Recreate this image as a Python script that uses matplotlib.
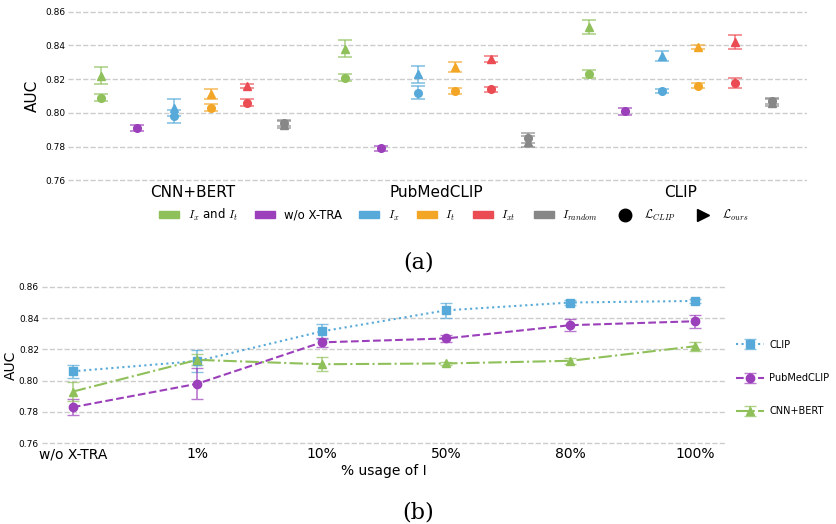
import numpy as np
import matplotlib.pyplot as plt
from matplotlib.patches import Patch
from matplotlib.lines import Line2D

plt.rcParams['mathtext.fontset'] = 'cm'

# === DATA (a) ===
groups = ["CNN+BERT", "PubMedCLIP", "CLIP"]
variants = ["both", "wo", "ix", "it", "ixt", "random"]
variant_labels = [r"$I_x$ and $I_t$", "w/o X-TRA", r"$I_x$", r"$I_t$", r"$I_{xt}$", r"$I_{random}$"]
colors = ["#8fc05a", "#9b3fbb", "#56a9d8", "#f3a626", "#eb4b52", "#878787"]

# L_CLIP (circles), per group, per variant
clip_mean = [[0.809, 0.791, 0.798, 0.803, 0.806, 0.794],
             [0.821, 0.779, 0.812, 0.813, 0.814, 0.785],
             [0.823, 0.801, 0.813, 0.816, 0.818, 0.807]]
clip_err = [[0.002, 0.002, 0.004, 0.002, 0.002, 0.002],
            [0.002, 0.0015, 0.004, 0.0015, 0.0015, 0.003],
            [0.0025, 0.002, 0.001, 0.0015, 0.003, 0.002]]
# L_ours (triangles); w/o X-TRA has none
ours_mean = [[0.822, None, 0.803, 0.811, 0.816, 0.793],
             [0.838, None, 0.823, 0.827, 0.832, 0.783],
             [0.851, None, 0.834, 0.839, 0.842, 0.806]]
ours_err = [[0.005, None, 0.005, 0.003, 0.001, 0.002],
            [0.005, None, 0.005, 0.003, 0.0015, 0.003],
            [0.004, None, 0.003, 0.001, 0.004, 0.002]]

# === DATA (b) ===
usage = ["w/o X-TRA", "1%", "10%", "50%", "80%", "100%"]
b_names = ["CLIP", "PubMedCLIP", "CNN+BERT"]
b_clip = [0.806, 0.8125, 0.8315, 0.845, 0.850, 0.851]
b_clip_err = [0.004, 0.007, 0.005, 0.005, 0.0015, 0.0015]
b_pub = [0.783, 0.798, 0.8245, 0.827, 0.8355, 0.838]
b_pub_err = [0.005, 0.010, 0.003, 0.002, 0.004, 0.004]
b_cnn = [0.793, 0.8133, 0.8105, 0.811, 0.8127, 0.822]
b_cnn_err = [0.006, 0.0035, 0.0045, 0.001, 0.002, 0.003]


def soften(eb, a=0.7):
    # error bars are a bit paler than the markers in the original
    _, caps, bars = eb
    for c in caps:
        c.set_alpha(a)
    for b in bars:
        b.set_alpha(a)


fig = plt.figure(figsize=(8.37, 5.24), dpi=100)

# === PANEL (a) ===
ax1 = fig.add_axes([0.0812, 0.6527, 0.883, 0.328])
offsets = (np.arange(6) - 2.5) * 0.15
for g in range(len(groups)):
    for v in range(len(variants)):
        x = g + offsets[v]
        eb = ax1.errorbar(x, clip_mean[g][v], yerr=clip_err[g][v], fmt='o', color=colors[v],
                          ms=5.5, capsize=5, elinewidth=1.2, capthick=1.2)
        soften(eb)
        if ours_mean[g][v] is not None:
            eb = ax1.errorbar(x, ours_mean[g][v], yerr=ours_err[g][v], fmt='^', color=colors[v],
                              ms=5.5, capsize=5, elinewidth=1.2, capthick=1.2)
            soften(eb)

ax1.set_xlim(-0.51, 2.52)
ax1.set_ylim(0.759, 0.861)
ax1.set_yticks([0.76, 0.78, 0.80, 0.82, 0.84, 0.86])
ax1.set_yticklabels(["0.76", "0.78", "0.80", "0.82", "0.84", "0.86"], fontsize=6.5)
ax1.set_xticks(range(len(groups)))
ax1.set_xticklabels(groups, fontsize=11)
ax1.tick_params(length=0, pad=2)
ax1.set_ylabel("AUC", fontsize=11, labelpad=4)
ax1.grid(axis='y', linestyle='--', color='#cccccc', linewidth=1)
ax1.set_axisbelow(True)
for s in ax1.spines.values():
    s.set_visible(False)

handles = [Patch(color=c, label=l) for c, l in zip(colors, variant_labels)]
handles.append(Line2D([], [], marker='o', color='black', ls='none', ms=9, label=r"$\mathcal{L}_{CLIP}$"))
handles.append(Line2D([], [], marker='>', color='black', ls='none', ms=9, label=r"$\mathcal{L}_{ours}$"))
fig.legend(handles=handles, loc='center', bbox_to_anchor=(0.542, 0.59), ncol=8, frameon=False,
           fontsize=8.5, handlelength=1.7, handleheight=0.5, columnspacing=1.5, handletextpad=0.7)

fig.text(0.5, 1 - 262 / 524, "(a)", ha='center', va='center', fontsize=16, family='DejaVu Serif')

# === PANEL (b) ===
ax2 = fig.add_axes([0.0498, 0.1513, 0.8176, 0.3042])
xs = np.arange(len(usage))
eb = ax2.errorbar(xs, b_clip, yerr=b_clip_err, fmt='s', ls=':', color="#56a9d8", ms=6, lw=1.5,
                  capsize=4.5, elinewidth=1.2, label=b_names[0])
soften(eb)
eb = ax2.errorbar(xs, b_pub, yerr=b_pub_err, fmt='o', ls='--', color="#9b3fbb", ms=6, lw=1.5,
                  capsize=4.5, elinewidth=1.2, label=b_names[1])
soften(eb)
eb = ax2.errorbar(xs, b_cnn, yerr=b_cnn_err, fmt='^', ls='-.', color="#8fc05a", ms=6, lw=1.5,
                  capsize=4.5, elinewidth=1.2, label=b_names[2])
soften(eb)

ax2.set_xlim(-0.25, 5.25)
ax2.set_ylim(0.759, 0.861)
ax2.set_yticks([0.76, 0.78, 0.80, 0.82, 0.84, 0.86])
ax2.set_yticklabels(["0.76", "0.78", "0.80", "0.82", "0.84", "0.86"], fontsize=6.5)
ax2.set_xticks(xs)
ax2.set_xticklabels(usage, fontsize=10)
ax2.tick_params(length=0, pad=2)
ax2.set_ylabel("AUC", fontsize=10, labelpad=1)
ax2.set_xlabel("% usage of I", fontsize=10, labelpad=2)
ax2.grid(axis='y', linestyle='--', color='#cccccc', linewidth=1)
ax2.set_axisbelow(True)
for s in ax2.spines.values():
    s.set_visible(False)
ax2.legend(loc='center left', bbox_to_anchor=(1.015, 0.418), frameon=False, fontsize=7,
           labelspacing=2.4, handlelength=2.9, handletextpad=0.5, borderaxespad=0, borderpad=0)

fig.text(0.5, 1 - 512 / 524, "(b)", ha='center', va='center', fontsize=16, family='DejaVu Serif')

plt.savefig("out.png", dpi=100)
